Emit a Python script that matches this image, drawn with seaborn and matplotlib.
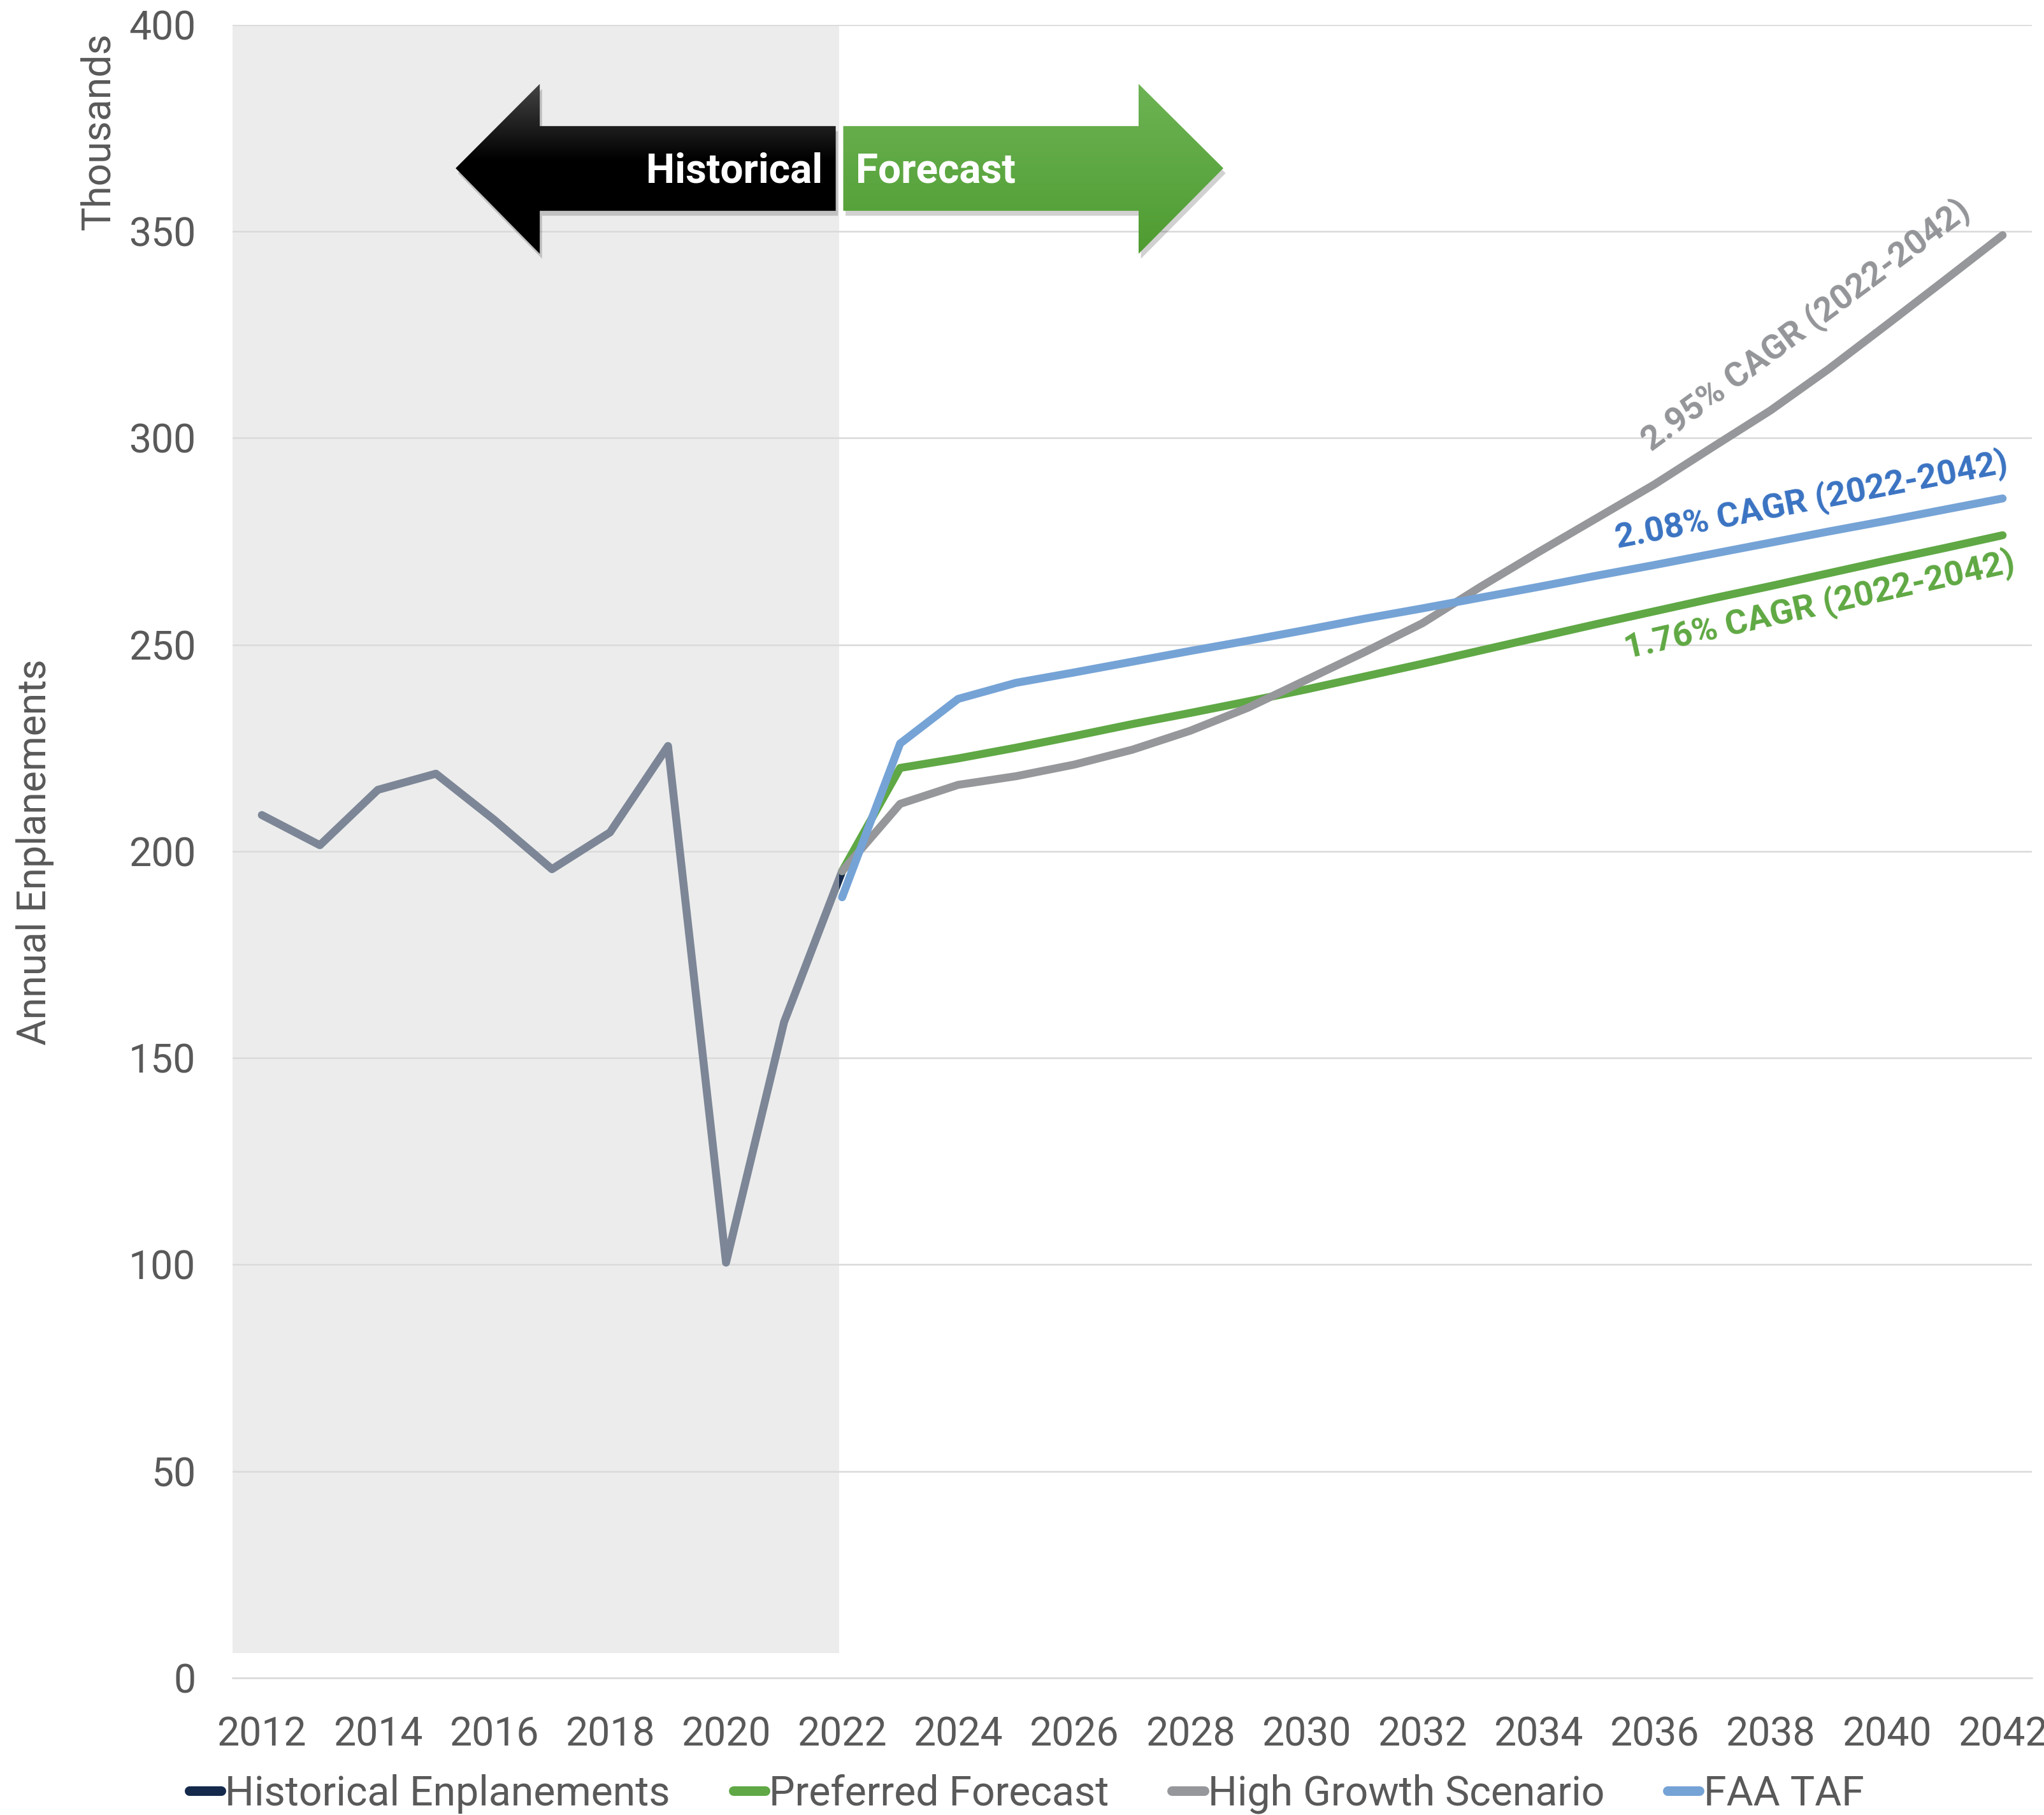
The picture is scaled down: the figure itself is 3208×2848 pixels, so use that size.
"""Annual enplanements: historical series and three forecast scenarios, 2012-2042."""

import matplotlib
matplotlib.use("Agg")
import matplotlib.pyplot as plt
import numpy as np
import seaborn as sns
from matplotlib.colors import to_rgb
from matplotlib.lines import Line2D
from matplotlib.patches import Polygon, Rectangle

YEARS_HIST = list(range(2012, 2023))
HISTORICAL = [208.8, 201.5, 214.9, 218.8, 207.7, 195.7, 204.6, 225.5, 100.5, 158.7, 195.2]

YEARS_FCST = list(range(2022, 2043))
PREFERRED = [195.2, 220.2, 222.5, 225.1, 227.9, 230.8, 233.5, 236.3, 239.2, 242.3, 245.4,
             248.6, 251.8, 255.0, 258.1, 261.2, 264.2, 267.3, 270.4, 273.4, 276.5]
HIGH_GROWTH = [195.2, 211.5, 216.1, 218.2, 221.0, 224.6, 229.2, 234.8, 241.5, 248.2, 255.2,
               264.0, 272.4, 280.6, 288.8, 297.8, 306.7, 316.7, 327.4, 338.2, 349.1]
FAA_TAF = [188.9, 226.1, 236.9, 240.8, 243.3, 245.9, 248.5, 251.0, 253.6, 256.3, 258.8,
           261.4, 264.0, 266.7, 269.3, 272.0, 274.7, 277.4, 280.0, 282.7, 285.4]

SERIES_NAMES = ["Historical Enplanements", "Preferred Forecast", "High Growth Scenario", "FAA TAF"]
YEAR_TICKS = list(range(2012, 2043, 2))
Y_TICKS = list(range(0, 401, 50))
CAGR_LABELS = ["2.95% CAGR (2022-2042)", "2.08% CAGR (2022-2042)", "1.76% CAGR (2022-2042)"]

NAVY = "#14294B"
GREEN = "#5FA845"
GREY = "#96979A"
BLUE = "#75A3D6"
TEXT = "#595959"
GRID = "#D9D9D9"
LW = 4.5
FS = 22.5


def gradient_arrow(ax, pts, top, mid, bottom, mid_at=0.5):
    pts = np.array(pts)
    shadow = Polygon(pts + np.array([0.04, -1.2]), closed=True, fc="black", ec="none",
                     alpha=0.18, zorder=4)
    ax.add_patch(shadow)
    poly = Polygon(pts, closed=True, fc="none", ec="none", zorder=5)
    ax.add_patch(poly)
    t = np.linspace(0, 1, 256)
    c_top, c_mid, c_bot = (np.array(to_rgb(c)) for c in (top, mid, bottom))
    grad = np.empty((256, 1, 3))
    for i, v in enumerate(t):
        if v < mid_at:
            f = v / mid_at
            grad[i, 0] = c_top + (c_mid - c_top) * f
        else:
            f = (v - mid_at) / (1 - mid_at)
            grad[i, 0] = c_mid + (c_bot - c_mid) * f
    x0, y0 = pts.min(axis=0)
    x1, y1 = pts.max(axis=0)
    im = ax.imshow(grad, extent=(x0, x1, y0, y1), origin="upper", aspect="auto",
                   interpolation="bilinear", zorder=5)
    im.set_clip_path(poly)


def main() -> None:
    sns.set_theme(style="white")
    plt.rcParams["font.family"] = ["Roboto", "DejaVu Sans"]

    fig = plt.figure(figsize=(16.04, 14.24), dpi=200)
    ax = fig.add_axes([0.1139, 0.0755, 0.88005, 0.91082])

    series = [
        (YEARS_HIST, HISTORICAL, NAVY, 2),
        (YEARS_FCST, PREFERRED, GREEN, 3),
        (YEARS_FCST, HIGH_GROWTH, GREY, 3.1),
        (YEARS_FCST, FAA_TAF, BLUE, 3.2),
    ]
    for xs, ys, color, z in series:
        sns.lineplot(x=xs, y=ys, ax=ax, color=color, zorder=z)
    for line in ax.lines:
        line.set_linewidth(LW)
        line.set_solid_capstyle("round")
        line.set_solid_joinstyle("round")

    # translucent panel over the historical period
    ax.add_patch(Rectangle((2011.5, 6.0), 2021.945 - 2011.5, 394.0, fc="#DCDCDC",
                           ec="none", alpha=0.52, zorder=2.5))

    gradient_arrow(ax, [(2015.34, 365.3), (2016.79, 385.7), (2016.79, 375.5), (2021.89, 375.5),
                        (2021.89, 355.0), (2016.79, 355.0), (2016.79, 344.6)],
                   "#454545", "#000000", "#000000", mid_at=0.45)
    gradient_arrow(ax, [(2022.02, 375.5), (2027.11, 375.5), (2027.11, 385.7), (2028.57, 365.3),
                        (2027.11, 344.6), (2027.11, 355.0), (2022.02, 355.0)],
                   "#6DB354", "#5EA843", "#4F9C31")
    ax.text(2021.66, 361.8, "Historical", ha="right", va="baseline", color="white",
            fontsize=23, fontweight="bold", zorder=6)
    ax.text(2022.24, 361.8, "Forecast", ha="left", va="baseline", color="white",
            fontsize=23, fontweight="bold", zorder=6)

    ann_kw = dict(ha="left", va="baseline", rotation_mode="anchor", fontsize=19.5,
                  fontweight="bold", zorder=6)
    ax.text(2035.95, 296.6, CAGR_LABELS[0], rotation=36.5, color="#939598", **ann_kw)
    ax.text(2035.36, 273.4, CAGR_LABELS[1], rotation=11.0, color="#3A73C2", **ann_kw)
    ax.text(2035.52, 246.6, CAGR_LABELS[2], rotation=12.6, color="#5FA843", **ann_kw)

    ax.set_xlim(2011.5, 2042.5)
    ax.set_ylim(0, 400)
    ax.set_xticks(YEAR_TICKS)
    ax.set_xticklabels([str(y) for y in YEAR_TICKS])
    ax.set_xticks(np.arange(2011.5, 2043.0, 1.0), minor=True)
    ax.set_yticks(Y_TICKS)
    ax.tick_params(axis="x", which="major", length=0, pad=21.5, labelsize=FS, labelcolor=TEXT)
    ax.tick_params(axis="x", which="minor", length=7.2, width=0.9, color=GRID, direction="out")
    ax.tick_params(axis="y", length=0, pad=21, labelsize=FS, labelcolor=TEXT)
    ax.set_xlabel("")
    ax.set_ylabel("")
    ax.yaxis.grid(True, color=GRID, linewidth=0.9, zorder=1)
    ax.xaxis.grid(False)
    ax.set_axisbelow(True)
    for side in ("left", "right", "top"):
        ax.spines[side].set_visible(False)
    ax.spines["bottom"].set_color(GRID)
    ax.spines["bottom"].set_linewidth(0.9)

    fig.text(0.0484, 0.9277, "Thousands", rotation=90, ha="center", va="center",
             fontsize=FS, color=TEXT)
    fig.text(0.0173, 0.5306, "Annual Enplanements", rotation=90, ha="center", va="center",
             fontsize=FS, color=TEXT)

    handles = [Line2D([], [], color=c, linewidth=5.4, solid_capstyle="round")
               for c in (NAVY, GREEN, GREY, BLUE)]
    if ax.get_legend() is not None:
        ax.get_legend().remove()
    fig.legend(handles, SERIES_NAMES, loc="center", bbox_to_anchor=(0.5022, 0.0116),
               ncol=4, frameon=False, handlelength=0.78, handletextpad=0.1,
               columnspacing=1.53, fontsize=23.2, labelcolor=TEXT, borderpad=0,
               borderaxespad=0)

    fig.savefig("out.png", dpi=200)
    plt.close(fig)


if __name__ == "__main__":
    main()
